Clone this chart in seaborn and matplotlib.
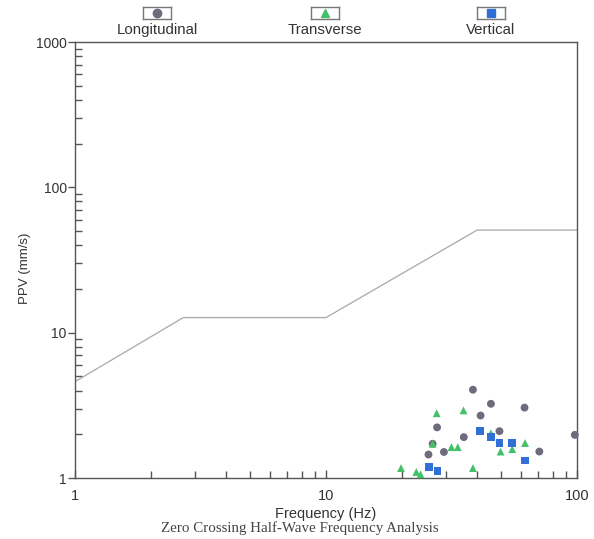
import pandas as pd
import seaborn as sns
import matplotlib.pyplot as plt
from matplotlib.ticker import FuncFormatter, LogLocator, NullFormatter

# Limite (courbe) - frequence (Hz) / PPV (mm/s)
curve_freq = [1, 2.7, 10, 40, 100]
curve_ppv = [4.6, 12.7, 12.7, 50.8, 50.8]

# Points releves
long_freq = [38.5, 45.4, 61.8, 41.3, 27.7, 49.1, 35.4, 29.5, 25.6, 70.8, 98, 26.6]
long_ppv = [4.05, 3.24, 3.05, 2.69, 2.23, 2.10, 1.91, 1.51, 1.45, 1.52, 1.98, 1.72]

trans_freq = [27.6, 35.3, 26.6, 31.6, 33.5, 19.9, 22.9, 23.8, 38.5, 45.4, 49.6, 55.2, 62.1]
trans_ppv = [2.79, 2.92, 1.72, 1.63, 1.63, 1.17, 1.10, 1.06, 1.17, 2.03, 1.52, 1.58, 1.74]

vert_freq = [25.7, 27.8, 41.2, 45.4, 49.1, 55.2, 62.1]
vert_ppv = [1.19, 1.12, 2.11, 1.91, 1.73, 1.73, 1.32]

series = ['Longitudinal', 'Transverse', 'Vertical']
colors = {'Longitudinal': '#6f6a7c', 'Transverse': '#45c06a', 'Vertical': '#2f6fd6'}
markers = {'Longitudinal': 'o', 'Transverse': '^', 'Vertical': 's'}

pts = pd.concat([
    pd.DataFrame({'freq': long_freq, 'ppv': long_ppv, 'serie': 'Longitudinal'}),
    pd.DataFrame({'freq': trans_freq, 'ppv': trans_ppv, 'serie': 'Transverse'}),
    pd.DataFrame({'freq': vert_freq, 'ppv': vert_ppv, 'serie': 'Vertical'}),
])
curve = pd.DataFrame({'freq': curve_freq, 'ppv': curve_ppv})

sns.set_style('ticks')
plt.rcParams['font.family'] = ['Liberation Sans', 'DejaVu Sans']
txt = '#333333'

fig = plt.figure(figsize=(5.94, 5.39), dpi=100)
ax = fig.add_axes([75 / 594, 1 - 478 / 539, 502 / 594, 436 / 539])

sns.lineplot(data=curve, x='freq', y='ppv', ax=ax, color='#a8a8a8',
             linewidth=0.9, sort=False, estimator=None)
sns.scatterplot(data=pts, x='freq', y='ppv', hue='serie', style='serie',
                palette=colors, markers=markers, s=32, edgecolor='none',
                legend=False, ax=ax, zorder=3, clip_on=False)

ax.set_xscale('log')
ax.set_yscale('log')
ax.set_xlim(1, 100)
ax.set_ylim(1, 1000)

fmt = FuncFormatter(lambda v, p: '%g' % v)
ax.xaxis.set_major_formatter(fmt)
ax.yaxis.set_major_formatter(fmt)
ax.xaxis.set_minor_locator(LogLocator(base=10, subs=range(2, 10)))
ax.yaxis.set_minor_locator(LogLocator(base=10, subs=range(2, 10)))
ax.xaxis.set_minor_formatter(NullFormatter())
ax.yaxis.set_minor_formatter(NullFormatter())
ax.tick_params(axis='y', which='major', direction='out', length=5, width=1,
               color='#555555', labelsize=10, labelcolor=txt, pad=1)
ax.tick_params(axis='y', which='minor', direction='in', length=5, width=1,
               color='#555555')
ax.tick_params(axis='x', which='major', direction='in', length=6, width=1,
               color='#555555', labelsize=10.5, labelcolor=txt, pad=8)
ax.tick_params(axis='x', which='minor', direction='in', length=5, width=1,
               color='#555555')
for sp in ax.spines.values():
    sp.set_color('#555555')
    sp.set_linewidth(1.0)

ax.set_xlabel('Frequency (Hz)', fontsize=10.5, color=txt, labelpad=3)
ax.set_ylabel('PPV (mm/s)', fontsize=9.5, color=txt)
ax.yaxis.set_label_coords(-0.088, 0.48)
fig.text(300 / 594, 1 - 528 / 539, 'Zero Crossing Half-Wave Frequency Analysis',
         ha='center', va='center', fontsize=10.8, color='#444444',
         family=['Liberation Serif', 'DejaVu Serif'])

# legende au-dessus du graphe
leg_x = [157, 325, 491]
for name, cx in zip(series, leg_x):
    box = fig.add_axes([(cx - 14) / 594, 1 - 19 / 539, 28 / 594, 12 / 539])
    box.set_xlim(-1, 1)
    box.set_ylim(-1, 1)
    box.set_xticks([])
    box.set_yticks([])
    for sp in box.spines.values():
        sp.set_color('#777777')
        sp.set_linewidth(1.0)
    box.plot([0], [0], marker=markers[name], color=colors[name],
             markersize=6, linestyle='none')
    fig.text(cx / 594, 1 - 30 / 539, name, ha='center', va='center',
             fontsize=10.8, color=txt)

fig.savefig('out.png', dpi=100)
